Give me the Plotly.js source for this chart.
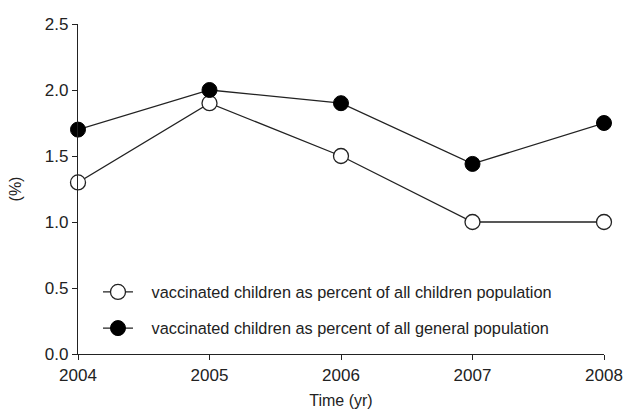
<!DOCTYPE html>
<html>
<head>
<meta charset="utf-8">
<script src="https://cdn.plot.ly/plotly-3.0.1.min.js"></script>
<style>html,body{margin:0;padding:0;background:#fff;}#chart{width:623px;height:413px;}</style>
</head>
<body>
<div id="chart"></div>
<script>
var years = [2004, 2005, 2006, 2007, 2008];
var childrenPct = [1.3, 1.9, 1.5, 1.0, 1.0];
var generalPct = [1.7, 2.0, 1.9, 1.44, 1.75];
var seriesNames = [
  "vaccinated children as percent of all children population",
  "vaccinated children as percent of all general population"
];
var pad = "\u00a0\u00a0\u00a0";

var traces = [
  {
    x: years, y: childrenPct, name: pad + seriesNames[0], type: "scatter", mode: "lines+markers",
    legendgroup: "a", cliponaxis: false,
    line: {color: "#222", width: 1.3},
    marker: {symbol: "circle", size: 15, color: "#fff", line: {color: "#222", width: 1.3}}
  },
  {
    x: years, y: generalPct, name: pad + seriesNames[1], type: "scatter", mode: "lines+markers",
    legendgroup: "b", cliponaxis: false,
    line: {color: "#222", width: 1.3},
    marker: {symbol: "circle", size: 15, color: "#000", line: {color: "#000", width: 1}}
  }
];

var layout = {
  width: 623, height: 413,
  margin: {l: 78, r: 19, t: 24, b: 59},
  paper_bgcolor: "#fff", plot_bgcolor: "#fff",
  font: {family: "Liberation Sans, Arial, sans-serif", color: "#222"},
  showlegend: true,
  legend: {
    x: 0.038, y: 0.24, xanchor: "left", yanchor: "top",
    bgcolor: "rgba(0,0,0,0)", font: {size: 16.3, color: "#222"},
    traceorder: "grouped", tracegroupgap: 12
  },
  xaxis: {
    range: [2004, 2008], tickvals: years, ticktext: years.map(String),
    showgrid: false, zeroline: false, showline: true, linecolor: "#222", linewidth: 1.2,
    ticks: "outside", ticklen: 5, tickcolor: "#222",
    tickfont: {size: 17, color: "#222"},
    title: {text: "Time (yr)", font: {size: 16, color: "#222"}, standoff: 11}
  },
  yaxis: {
    range: [0, 2.5], tickvals: [0, 0.5, 1, 1.5, 2, 2.5], ticktext: ["0.0", "0.5", "1.0", "1.5", "2.0", "2.5"],
    showgrid: false, zeroline: false, showline: true, linecolor: "#222", linewidth: 1.2,
    ticks: "outside", ticklen: 5, tickcolor: "#222",
    tickfont: {size: 17, color: "#222"},
    title: {text: "(%)", font: {size: 16, color: "#222"}, standoff: 19}
  }
};

Plotly.newPlot("chart", traces, layout, {displayModeBar: false, staticPlot: true});
</script>
</body>
</html>
